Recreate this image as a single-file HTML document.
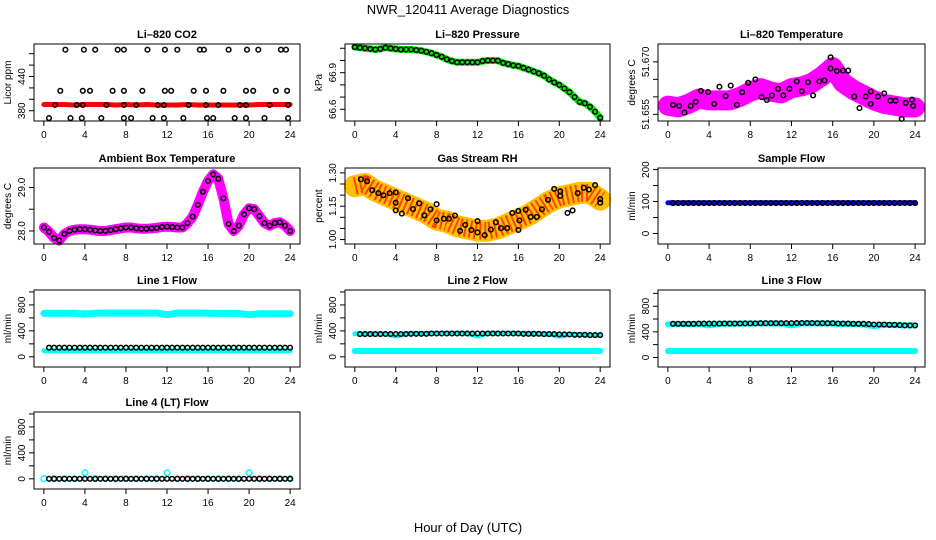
<!DOCTYPE html>
<html><head><meta charset="utf-8"><style>
html,body{margin:0;padding:0;background:#fff;}
svg{display:block;font-family:"Liberation Sans",Arial,sans-serif;}
</style></head><body>
<svg id="fig" width="936" height="540" viewBox="0 0 936 540" xmlns="http://www.w3.org/2000/svg">
<text x="468" y="14" text-anchor="middle" font-size="13">NWR_120411  Average Diagnostics</text>
<text x="468" y="532" text-anchor="middle" font-size="13">Hour of Day (UTC)</text>
</svg>
<script>
// ---------- shared hour arrays ----------
const H25=[0,1,2,3,4,5,6,7,8,9,10,11,12,13,14,15,16,17,18,19,20,21,22,23,24];
const H49=[0,0.5,1,1.5,2,2.5,3,3.5,4,4.5,5,5.5,6,6.5,7,7.5,8,8.5,9,9.5,10,10.5,11,11.5,12,12.5,13,13.5,14,14.5,15,15.5,16,16.5,17,17.5,18,18.5,19,19.5,20,20.5,21,21.5,22,22.5,23,23.5,24];
const HB=[0.5,1,1.5,2,2.5,3,3.5,4,4.5,5,5.5,6,6.5,7,7.5,8,8.5,9,9.5,10,10.5,11,11.5,12,12.5,13,13.5,14,14.5,15,15.5,16,16.5,17,17.5,18,18.5,19,19.5,20,20.5,21,21.5,22,22.5,23,23.5,24];
const xTicks=[0,4,8,12,16,20,24];

// ---------- CO2 ----------
const co2Band=[391,391,391,390,391,391,391,390,391,390,391,390,390,390,391,390,390,390,390,390,390,391,391,391,391];
const co2Hours=[2.1,3.9,5.0,7.2,7.8,10.1,11.8,13.0,15.2,15.6,18.0,19.8,20.9,23.1,23.6,
 1.6,3.8,4.5,6.7,7.8,9.6,11.8,12.4,14.6,15.8,17.5,19.7,20.4,22.6,23.7,
 1.1,3.2,3.8,6.1,7.8,9.0,11.1,11.7,14.1,15.8,17.0,19.1,19.7,22.0,23.8,
 0.5,2.6,3.7,5.6,7.8,8.5,10.6,11.7,13.6,15.9,16.5,18.6,19.7,21.5,23.8];
const co2Values=[487,487,487,487,487,487,487,487,487,487,487,487,487,487,487,
 415,415,415,415,415,415,415,415,415,415,415,415,415,415,415,
 390,390,390,390,390,390,390,390,390,390,390,390,390,390,390,
 367,367,367,367,367,367,367,367,367,367,367,367,367,367,367];

// ---------- Pressure ----------
const presValues=[67.11,67.105,67.1,67.095,67.09,67.095,67.105,67.1,67.095,67.09,67.09,67.09,67.085,67.08,67.07,67.06,67.045,67.03,67.01,66.995,66.985,66.985,66.985,66.985,66.985,66.995,67.0,67.0,66.998,66.98,66.97,66.96,66.955,66.94,66.925,66.91,66.895,66.875,66.845,66.82,66.8,66.77,66.74,66.7,66.66,66.65,66.62,66.58,66.53];

// ---------- Li-820 Temperature ----------
const tempBand=[51.6575,51.657,51.658,51.6595,51.659,51.659,51.659,51.66,51.6615,51.6625,51.6615,51.661,51.6625,51.663,51.664,51.666,51.6685,51.664,51.662,51.6605,51.659,51.658,51.6575,51.657,51.657];
const tempHours=[0.5,1.1,1.6,2.2,2.7,3.2,3.9,4.5,5.0,5.6,6.1,6.7,7.2,7.8,8.5,9.1,9.6,10.1,10.7,11.2,11.8,12.5,13.0,13.6,14.1,14.7,15.2,15.8,15.8,16.4,17.0,17.5,18.1,18.6,19.2,19.7,19.7,20.4,21.0,21.6,22.1,22.7,23.1,23.7,23.8];
const tempValues=[51.6577,51.6574,51.6555,51.6574,51.6586,51.6617,51.6614,51.658,51.6629,51.6602,51.6632,51.6577,51.6613,51.664,51.665,51.6599,51.6591,51.6604,51.6623,51.6604,51.6623,51.6644,51.6616,51.6642,51.6604,51.6644,51.6647,51.6681,51.6713,51.6674,51.6675,51.6675,51.6601,51.6568,51.6601,51.6615,51.658,51.6601,51.661,51.6589,51.6589,51.6537,51.6583,51.6592,51.6574];

// ---------- Ambient box temperature ----------
const ambValues=[28.08,27.98,27.84,27.78,27.93,28.0,28.03,28.04,28.04,28.03,28.01,28.0,28.0,28.02,28.04,28.06,28.08,28.08,28.06,28.05,28.05,28.06,28.07,28.09,28.1,28.09,28.08,28.08,28.18,28.33,28.6,28.9,29.15,29.3,29.2,28.75,28.16,28.0,28.12,28.38,28.52,28.5,28.34,28.18,28.12,28.18,28.2,28.12,28.0];

// ---------- Gas stream RH ----------
const rhBand=[1.24,1.25,1.22,1.2,1.18,1.16,1.14,1.12,1.09,1.08,1.06,1.05,1.04,1.04,1.05,1.07,1.09,1.11,1.14,1.17,1.19,1.2,1.21,1.21,1.18];
const rhHours=[0.6,1.2,1.7,2.3,2.8,3.4,4.0,4.0,4.0,4.6,5.2,5.7,6.3,6.8,7.4,8.0,8.0,8.7,9.2,9.8,10.3,10.8,11.4,12.0,12.0,12.7,13.3,13.8,14.3,14.9,15.4,16.0,16.0,16.1,16.7,17.2,17.8,18.3,18.9,19.5,20.1,20.1,20.8,21.3,21.8,22.4,22.9,23.5,24.0,24.0];
const rhValues=[1.271,1.262,1.222,1.209,1.199,1.209,1.212,1.166,1.131,1.117,1.186,1.137,1.163,1.109,1.136,1.086,1.159,1.094,1.094,1.108,1.039,1.066,1.043,1.032,1.083,1.020,1.045,1.078,1.051,1.051,1.120,1.043,1.129,1.086,1.134,1.102,1.102,1.136,1.179,1.228,1.217,1.197,1.120,1.131,1.209,1.233,1.225,1.245,1.182,1.166];

// ---------- Sample flow ----------
const sampleBand=[96,96,96,96,96,96,96,96,96,96,96,96,96,96,96,96,96,96,96,96,96,96,96,96,96];
const sampleValues=[95,95,95,95,95,95,95,95,95,95,95,95,95,95,95,95,95,95,95,95,95,95,95,95,95,95,95,95,95,95,95,95,95,95,95,95,95,95,95,95,95,95,95,95,95,95,95,95];

// ---------- Line flows ----------
const line1Upper=[670,672,672,672,660,672,674,674,674,674,674,674,650,674,674,674,672,670,670,668,650,664,664,664,664];
const line1Lower=[95,95,95,95,95,95,95,95,95,95,95,95,95,95,95,95,95,95,95,95,95,95,95,95,95];
const line1Black=[140,140,140,140,140,140,140,140,140,140,140,140,140,140,140,140,140,140,140,140,140,140,140,140,140,140,140,140,140,140,140,140,140,140,140,140,140,140,140,140,140,140,140,140,140,140,140,140];
const line2Upper=[355,355,355,355,320,355,360,360,362,362,362,362,320,362,362,362,360,355,355,350,320,345,340,335,335];
const line2Lower=[90,90,90,90,90,90,90,90,90,90,90,90,90,90,90,90,90,90,90,90,90,90,90,90,90];
const line2Black=[350,350,350,350,350,352,352,352,352,352,355,355,355,355,360,360,360,360,360,360,360,360,360,360,360,360,360,360,360,360,360,360,355,355,355,355,350,350,350,345,345,345,340,340,340,335,335,335];
const line3Upper=[520,520,520,522,500,525,525,528,530,530,530,530,500,532,532,530,530,520,520,515,490,510,505,500,500];
const line3Lower=[100,100,100,100,100,100,100,100,100,100,100,100,100,100,100,100,100,100,100,100,100,100,100,100,100];
const line3Black=[525,525,525,525,525,528,528,528,528,528,530,530,530,530,532,532,532,535,535,535,535,535,535,535,538,538,538,538,535,535,535,535,530,530,530,525,525,525,520,515,515,515,510,510,505,500,500,500];
const line4Cyan=[2,2,2,2,95,2,2,2,2,2,2,2,95,2,2,2,2,2,2,2,95,2,2,2,2];
const line4Black=[0,0,0,0,0,0,0,0,0,0,0,0,0,0,0,0,0,0,0,0,0,0,0,0,0,0,0,0,0,0,0,0,0,0,0,0,0,0,0,0,0,0,0,0,0,0,0,0];

const NS='http://www.w3.org/2000/svg';
const svg=document.getElementById('fig');
function mk(tag,attrs,parent){const e=document.createElementNS(NS,tag);for(const k in attrs)e.setAttribute(k,attrs[k]);(parent||svg).appendChild(e);return e;}

const cols=[[34,300],[345,610],[658,925]];
const rows=[[44,121],[168,244],[290,367],[412,489]];

function panel(o){
  const [x0,x1]=cols[o.c],[y0,y1]=rows[o.r];
  const g=mk('g',{});
  
  
  const xs=h=>x0+(h+0.96)/25.92*(x1-x0);
  const ys=v=>y1-(v-o.ylim[0])/(o.ylim[1]-o.ylim[0])*(y1-y0);
  // title
  const t=mk('text',{x:(x0+x1)/2,y:y0-6,'text-anchor':'middle','font-size':'11','font-weight':'bold'},g);
  t.textContent=o.title;
  
  
  // data layers
  o.layers.forEach((L,li)=>{
    if(L.type==='band'){
      const pts=L.x.map((h,i)=>xs(h).toFixed(1)+','+ys(L.y[i]).toFixed(1)).join(' ');
      const p=mk('polyline',{points:pts,fill:'none',stroke:L.color,'stroke-width':L.w,'stroke-linejoin':'round','stroke-linecap':'round'},g);
      
      
      if(L.color2){
        const p2=mk('polyline',{points:pts,fill:'none',stroke:L.color2,'stroke-width':L.w*0.8,'stroke-dasharray':'2 3','stroke-linejoin':'round'},g);
        
        
      }
    } else {
      const gg=mk('g',{},g);
      
      
      L.x.forEach((h,i)=>{
        const c=mk('circle',{cx:xs(h).toFixed(1),cy:ys(L.y[i]).toFixed(1),r:L.r||2.3,fill:'none',stroke:L.color,'stroke-width':1.5},gg);
        
        
      });
    }
  });
  // box
  const b=mk('rect',{x:x0,y:y0,width:x1-x0,height:y1-y0,fill:'none',stroke:'#000','stroke-width':1},g);
  
  
  // x axis
  const xa=mk('g',{},g);
  
  
  mk('line',{x1:xs(0),x2:xs(24),y1:y1,y2:y1,stroke:'#000'},xa);
  xTicks.forEach(h=>{
    mk('line',{x1:xs(h),x2:xs(h),y1:y1,y2:y1+5,stroke:'#000'},xa);
    const tl=mk('text',{x:xs(h),y:y1+17,'text-anchor':'middle','font-size':'10'},xa);
    tl.textContent=h;
    
    
  });
  // y axis
  const ya=mk('g',{},g);
  
  
  mk('line',{x1:x0,x2:x0,y1:ys(o.yt[0]),y2:ys(o.yt[o.yt.length-1]),stroke:'#000'},ya);
  o.yt.forEach(v=>mk('line',{x1:x0-5,x2:x0,y1:ys(v),y2:ys(v),stroke:'#000'},ya));
  o.yl.forEach((v,i)=>{
    const yy=ys(v), xx=x0-9;
    const tl=mk('text',{x:xx,y:yy,'text-anchor':'middle','font-size':'10',transform:`rotate(-90 ${xx} ${yy})`},ya);
    tl.textContent=o.ylt[i];
    
    
  });
  const yy=(y0+y1)/2, xx=x0-23;
  const at=mk('text',{x:xx,y:yy,'text-anchor':'middle','font-size':'10',transform:`rotate(-90 ${xx} ${yy})`},ya);
  at.textContent=o.ytitle;
  
  
}

const flowT=[0,200,400,600,800,1000], flowL=[0,400,800], flowLT=['0','400','800'];
panel({name:'co2',title:'Li\u2013820 CO2',c:0,r:0,ylim:[362,497],yt:[380,400,420,440,460,480],yl:[380,440],ylt:['380','440'],ytitle:'Licor ppm',
  layers:[{type:'band',x:H25,y:co2Band,color:'#ff0000',w:5},{type:'pts',x:co2Hours,y:co2Values,color:'#000'}]});
panel({name:'pressure',title:'Li\u2013820 Pressure',c:1,r:0,ylim:[66.504,67.135],yt:[66.6,66.7,66.8,66.9,67.0,67.1],yl:[66.6,66.9],ylt:['66.6','66.9'],ytitle:'kPa',
  layers:[{type:'band',x:H49,y:presValues,color:'#00ee00',w:7},{type:'pts',x:H49,y:presValues,color:'#000'}]});
panel({name:'li820-temperature',title:'Li\u2013820 Temperature',c:2,r:0,ylim:[51.6531,51.6751],yt:[51.655,51.66,51.665,51.67],yl:[51.655,51.67],ylt:['51.655','51.670'],ytitle:'degrees C',
  layers:[{type:'band',x:H25,y:tempBand,color:'#ff00ff',w:20},{type:'pts',x:tempHours,y:tempValues,color:'#000'}]});
panel({name:'ambient-temperature',title:'Ambient Box Temperature',c:0,r:1,ylim:[27.70,29.448],yt:[28,28.5,29],yl:[28,29],ylt:['28.0','29.0'],ytitle:'degrees C',
  layers:[{type:'band',x:H49,y:ambValues,color:'#ff00ff',w:10},{type:'pts',x:H49,y:ambValues,color:'#000'}]});
panel({name:'gas-rh',title:'Gas Stream RH',c:1,r:1,ylim:[0.98,1.322],yt:[1.0,1.05,1.1,1.15,1.2,1.25,1.3],yl:[1.0,1.15,1.3],ylt:['1.00','1.15','1.30'],ytitle:'percent',
  layers:[{type:'band',x:H25,y:rhBand,color:'#ffc000',color2:'#ff4000',w:22},{type:'pts',x:rhHours,y:rhValues,color:'#000'}]});
panel({name:'sample-flow',title:'Sample Flow',c:2,r:1,ylim:[-33,205],yt:[0,50,100,150,200],yl:[0,100,200],ylt:['0','100','200'],ytitle:'ml/min',
  layers:[{type:'band',x:H25,y:sampleBand,color:'#0000ff',w:5},{type:'pts',x:HB,y:sampleValues,color:'#000'}]});
panel({name:'line1-flow',title:'Line 1 Flow',c:0,r:2,ylim:[-157,1030],yt:flowT,yl:flowL,ylt:flowLT,ytitle:'ml/min',
  layers:[{type:'band',x:H25,y:line1Upper,color:'#00ffff',w:7},{type:'band',x:H25,y:line1Lower,color:'#00ffff',w:5},{type:'pts',x:HB,y:line1Black,color:'#000'}]});
panel({name:'line2-flow',title:'Line 2 Flow',c:1,r:2,ylim:[-157,1030],yt:flowT,yl:flowL,ylt:flowLT,ytitle:'ml/min',
  layers:[{type:'band',x:H25,y:line2Upper,color:'#00ffff',w:5},{type:'band',x:H25,y:line2Lower,color:'#00ffff',w:6},{type:'pts',x:HB,y:line2Black,color:'#000'}]});
panel({name:'line3-flow',title:'Line 3 Flow',c:2,r:2,ylim:[-149,1053],yt:flowT,yl:flowL,ylt:flowLT,ytitle:'ml/min',
  layers:[{type:'band',x:H25,y:line3Upper,color:'#00ffff',w:6},{type:'band',x:H25,y:line3Lower,color:'#00ffff',w:6},{type:'pts',x:HB,y:line3Black,color:'#000'}]});
panel({name:'line4-flow',title:'Line 4 (LT) Flow',c:0,r:3,ylim:[-157,1030],yt:flowT,yl:flowL,ylt:flowLT,ytitle:'ml/min',
  layers:[{type:'pts',x:H25,y:line4Cyan,color:'#00ffff',r:2.8},{type:'pts',x:HB,y:line4Black,color:'#000'}]});
</script>
</body></html>
